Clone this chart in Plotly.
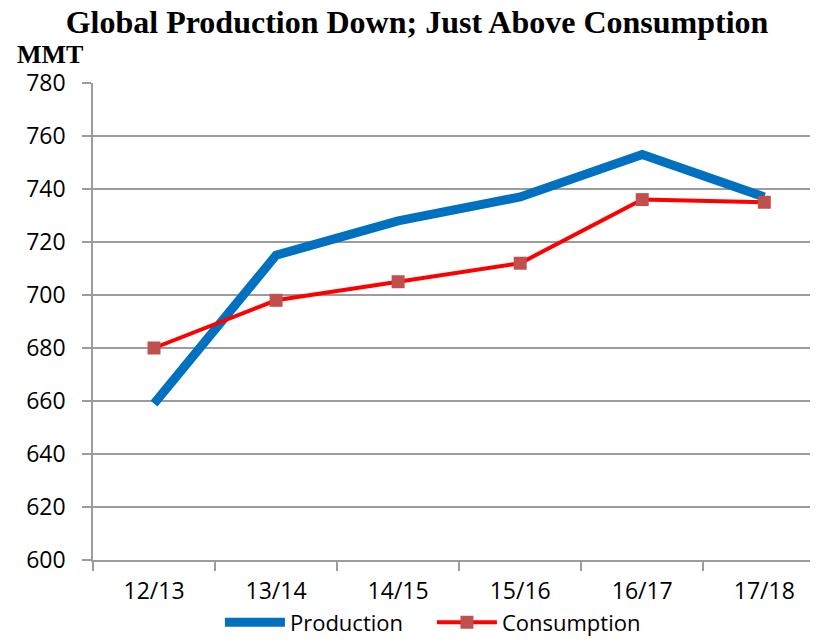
import plotly.graph_objects as go

# marketing years
years = ["12/13", "13/14", "14/15", "15/16", "16/17", "17/18"]

# million metric tons
production = [659, 715, 728, 737, 753, 737]
consumption = [680, 698, 705, 712, 736, 735]

tick_font = dict(family="Open Sans, sans-serif", size=23, color="#000000")

fig = go.Figure()

fig.add_trace(go.Scatter(
    x=years, y=production, name="Production", mode="lines",
    line=dict(color="#0070C0", width=9)))

fig.add_trace(go.Scatter(
    x=years, y=consumption, name="Consumption", mode="lines+markers",
    line=dict(color="#FF0000", width=4),
    marker=dict(symbol="square", size=13, color="#C0504D")))

# the page body has an 8px margin, so the figure is a bit smaller than the window
fig.update_layout(
    width=810, height=631,
    margin=dict(l=85, r=0, t=75, b=79, autoexpand=False),
    paper_bgcolor="white", plot_bgcolor="white",
    title=dict(text="<b>Global Production Down; Just Above Consumption</b>",
               x=0.505, xanchor="center", xref="container",
               y=0.978, yanchor="middle", yref="container",
               font=dict(family="Liberation Serif, serif", size=32, color="#000000")),
    showlegend=True,
    legend=dict(orientation="h", x=0.4675, xanchor="center", y=-0.131, yanchor="middle",
                font=dict(family="Open Sans, sans-serif", size=22, color="#000000"),
                itemwidth=60, tracegroupgap=0, entrywidth=137),
    annotations=[dict(text="<b>MMT</b>", xref="paper", yref="paper",
                      x=-0.107, xanchor="left", y=1.059, yanchor="middle",
                      showarrow=False,
                      font=dict(family="Liberation Serif, serif", size=26, color="#000000"))],
)

fig.update_xaxes(
    type="category", range=[-0.5, 5.44],
    tickson="boundaries", ticks="outside", ticklen=9, tickcolor="#9C9C9C", tickwidth=1.5,
    showline=True, linecolor="#9C9C9C", linewidth=1.5,
    showgrid=False, tickfont=tick_font, ticklabelstandoff=10)

fig.update_yaxes(
    range=[600, 780], dtick=20, tick0=600,
    ticks="outside", ticklen=9, tickcolor="#9C9C9C", tickwidth=1.5,
    showline=True, linecolor="#9C9C9C", linewidth=1.5,
    showgrid=True, gridcolor="#9C9C9C", gridwidth=1.5,
    zeroline=False, tickfont=tick_font, ticklabelstandoff=12)

fig.write_html("out.html")
